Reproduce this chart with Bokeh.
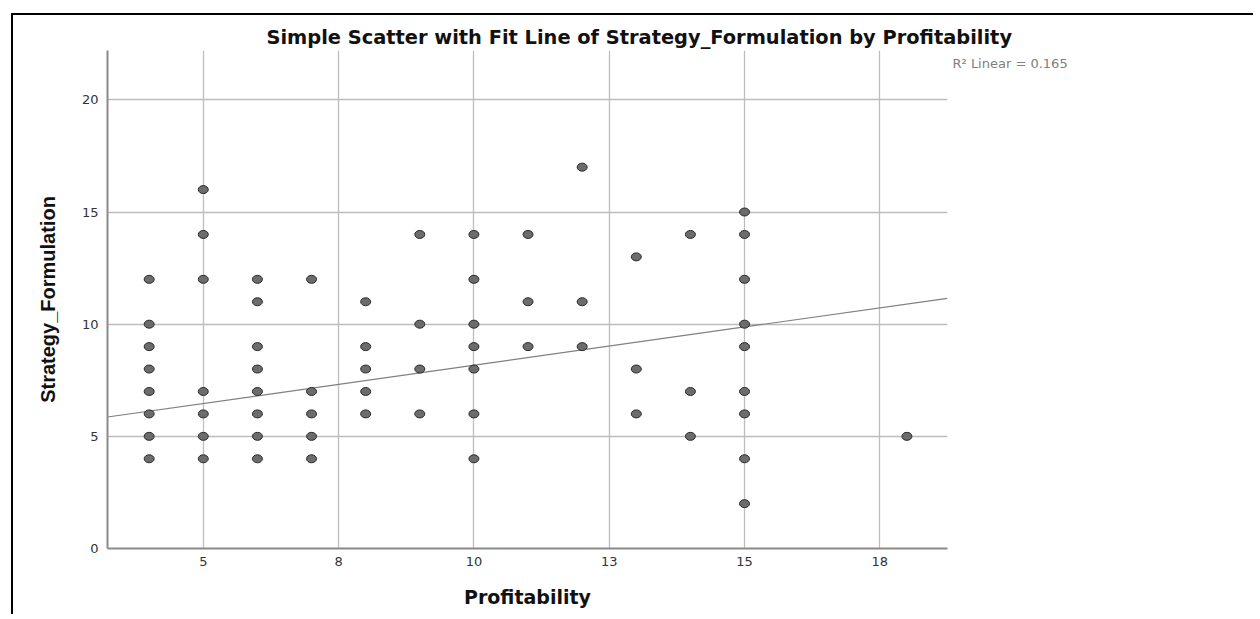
from bokeh.plotting import figure
from bokeh.models import FixedTicker, Range1d, LinearAxis
from bokeh.embed import file_html
from bokeh.resources import INLINE

# ---- data ----
profitability = [4, 4, 4, 4, 4, 4, 4, 4,
                 5, 5, 5, 5, 5, 5, 5,
                 6, 6, 6, 6, 6, 6, 6, 6,
                 7, 7, 7, 7, 7,
                 8, 8, 8, 8, 8,
                 9, 9, 9, 9,
                 10, 10, 10, 10, 10, 10, 10,
                 11, 11, 11,
                 12, 12, 12,
                 13, 13, 13,
                 14, 14, 14,
                 15, 15, 15, 15, 15, 15, 15, 15, 15,
                 18]
strategy_formulation = [12, 10, 9, 8, 7, 6, 5, 4,
                        16, 14, 12, 7, 6, 5, 4,
                        12, 11, 9, 8, 7, 6, 5, 4,
                        12, 7, 6, 5, 4,
                        11, 9, 8, 7, 6,
                        14, 10, 8, 6,
                        14, 12, 10, 9, 8, 6, 4,
                        14, 11, 9,
                        17, 11, 9,
                        13, 8, 6,
                        14, 7, 5,
                        15, 14, 12, 10, 9, 7, 6, 4, 2,
                        5]
x_tick_values = [5, 7.5, 10, 12.5, 15, 17.5]
x_tick_labels = ["5", "8", "10", "13", "15", "18"]
y_tick_values = [0, 5, 10, 15, 20]
fit_intercept = 4.76
fit_slope = 0.341
r_squared_text = "R\u00b2 Linear = 0.165"
title_text = "Simple Scatter with Fit Line of Strategy_Formulation by Profitability"

SANS = "Liberation Sans"
WIDE = "DejaVu Sans"

x_lo, x_hi = 3.23, 18.75
y_lo, y_hi = 0, 22.2
r2_y = 21.63   # height of the R² note, beside the top right corner of the chart

p = figure(frame_width=840, frame_height=498,
           x_range=Range1d(x_lo, x_hi), y_range=Range1d(y_lo, y_hi),
           output_backend="svg", toolbar_location=None,
           min_border_left=94, min_border_right=306,
           min_border_top=35, min_border_bottom=66,
           title=title_text)
p.styles = {"border-top": "2px solid #000000", "border-left": "2px solid #000000"}
p.margin = (13, 0, 0, 11)
p.outline_line_color = None
p.background_fill_color = "white"
p.border_fill_color = "white"

p.title.text_font = WIDE
p.title.text_font_style = "bold"
p.title.text_font_size = "19.4px"
p.title.text_color = "#111111"
p.title.align = "left"
p.title.offset = 159
p.title.standoff = 4

# axes
for ax in (p.xaxis[0], p.yaxis[0]):
    ax.axis_line_color = "#8a8a8a"
    ax.axis_line_width = 2
    ax.major_tick_out = 0
    ax.major_tick_in = 0
    ax.minor_tick_out = 0
    ax.minor_tick_in = 0
    ax.major_label_text_font = WIDE
    ax.major_label_text_font_size = "13px"
    ax.major_label_text_color = "#333333"
    ax.axis_label_text_font_style = "bold"
    ax.axis_label_text_color = "#111111"

p.xaxis[0].ticker = FixedTicker(ticks=x_tick_values)
p.xaxis[0].major_label_overrides = {v: s for v, s in zip(x_tick_values, x_tick_labels)}
p.xaxis[0].axis_label = "Profitability"
p.xaxis[0].axis_label_text_font = WIDE
p.xaxis[0].axis_label_text_font_size = "19px"
p.xaxis[0].major_label_standoff = 8
p.xaxis[0].axis_label_standoff = 17

p.yaxis[0].ticker = FixedTicker(ticks=y_tick_values)
p.yaxis[0].axis_label = "Strategy_Formulation"
p.yaxis[0].axis_label_text_font = SANS
p.yaxis[0].axis_label_text_font_size = "20px"
p.yaxis[0].major_label_standoff = 9
p.yaxis[0].axis_label_standoff = 20

# R² note, carried as the single label of a bare axis on the right
r2_axis = LinearAxis(ticker=FixedTicker(ticks=[r2_y]),
                     major_label_overrides={r2_y: r_squared_text},
                     axis_line_color=None, major_tick_out=0, major_tick_in=0,
                     minor_tick_out=0, minor_tick_in=0,
                     major_label_standoff=5, major_label_text_font=WIDE,
                     major_label_text_font_size="13px",
                     major_label_text_color="#808080")
p.add_layout(r2_axis, "right")

p.xgrid[0].ticker = FixedTicker(ticks=x_tick_values)
p.ygrid[0].ticker = FixedTicker(ticks=y_tick_values)
for g in (p.xgrid[0], p.ygrid[0]):
    g.grid_line_color = "#bdbdbd"
    g.grid_line_width = 1.3

# fit line across the chart
fit_x = [x_lo, x_hi]
fit_y = [fit_intercept + fit_slope * v for v in fit_x]
p.line(fit_x, fit_y, line_color="#7f7f7f", line_width=1.2)

# points
p.ellipse(x=profitability, y=strategy_formulation, width=10, height=8,
          width_units="screen", height_units="screen",
          fill_color="#6c6c6c", line_color="#2a2a2a", line_width=1)

open("out.html", "w").write(file_html(p, INLINE))
